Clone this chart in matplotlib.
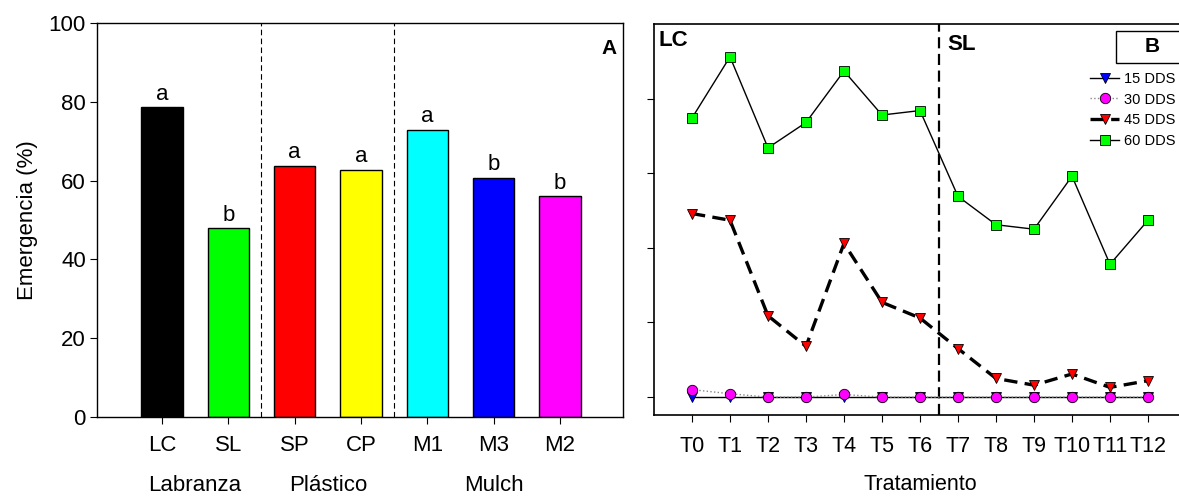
import matplotlib
matplotlib.use('Agg')
import matplotlib.pyplot as plt
from matplotlib.patches import Rectangle

plt.rcParams['font.family'] = ['Liberation Sans', 'DejaVu Sans']

# Panel A data
trat_a = ['LC', 'SL', 'SP', 'CP', 'M1', 'M3', 'M2']
emergencia = [78.7, 47.9, 63.8, 62.8, 72.9, 60.7, 56.0]
letras = ['a', 'b', 'a', 'a', 'a', 'b', 'b']
colores = ['#000000', '#00ff00', '#ff0000', '#ffff00', '#00ffff', '#0000ff', '#ff00ff']
grupos = ['Labranza', 'Plástico', 'Mulch']
grupos_x = [0.5, 2.5, 5.0]

# Panel B data
trat_b = ['T0', 'T1', 'T2', 'T3', 'T4', 'T5', 'T6', 'T7', 'T8', 'T9', 'T10', 'T11', 'T12']
dds15 = [0, 0, 0, 0, 0, 0, 0, 0, 0, 0, 0, 0, 0]
dds30 = [1.0, 0.45, 0, 0, 0.35, 0, 0, 0, 0, 0, 0, 0, 0]
dds45 = [24.6, 23.7, 10.9, 6.8, 20.6, 12.7, 10.6, 6.5, 2.5, 1.6, 3.1, 1.3, 2.2]
dds60 = [37.4, 45.6, 33.4, 36.8, 43.7, 37.8, 38.4, 26.9, 23.1, 22.5, 29.6, 17.8, 23.7]

W, H = 1179, 497
fig = plt.figure(figsize=(W / 100, H / 100), dpi=100)

# ---------- Panel A ----------
ax1 = fig.add_axes([97 / W, 1 - 417 / H, (623 - 97) / W, (417 - 23) / H])
xa = range(len(trat_a))
ax1.bar(xa, emergencia, width=0.62, color=colores, edgecolor='black', linewidth=1)
for x, v, l in zip(xa, emergencia, letras):
    ax1.text(x, v + 0.6, l, ha='center', va='bottom', fontsize=16)
for xs in [1.5, 3.5]:
    ax1.axvline(xs, color='black', linestyle=(0, (5, 3)), linewidth=0.8)
ax1.set_xlim(-0.98, 6.95)
ax1.set_ylim(0, 100)
ax1.set_yticks([0, 20, 40, 60, 80, 100])
ax1.set_xticks(list(xa))
ax1.set_xticklabels(trat_a)
ax1.tick_params(axis='both', direction='out', length=5, labelsize=16)
ax1.tick_params(axis='x', pad=8)
ax1.tick_params(axis='y', pad=3)
for x, g in zip(grupos_x, grupos):
    ax1.text(x, -0.173, g, transform=ax1.get_xaxis_transform(), ha='center',
             va='center', fontsize=16)
ax1.set_ylabel('Emergencia (%)', fontsize=16, labelpad=8)
ax1.text(0.987, 0.935, 'A', transform=ax1.transAxes, ha='right', va='center',
         fontsize=15, fontweight='bold')
for s in ax1.spines.values():
    s.set_linewidth(1)

# ---------- Panel B ----------
ax2 = fig.add_axes([654 / W, 1 - 415 / H, (1186 - 654) / W, (415 - 24) / H])
xb = range(len(trat_b))
ax2.plot(xb, dds15, color='black', linewidth=1, marker='v', markersize=7.5,
         markerfacecolor='#0000ff', markeredgecolor='black', markeredgewidth=0.6,
         label='15 DDS', zorder=3)
ax2.plot(xb, dds30, color='#888888', linestyle=':', linewidth=1, marker='o',
         markersize=7.5, markerfacecolor='#ff00ff', markeredgecolor='black',
         markeredgewidth=0.6, label='30 DDS', zorder=4)
ax2.plot(xb, dds45, color='black', linestyle=(0, (4, 2.2)), linewidth=2.4,
         marker='v', markersize=7.5, markerfacecolor='#ff0000',
         markeredgecolor='black', markeredgewidth=0.6, label='45 DDS', zorder=3)
ax2.plot(xb, dds60, color='black', linewidth=1, marker='s', markersize=7.5,
         markerfacecolor='#00ff00', markeredgecolor='black',
         markeredgewidth=0.6, label='60 DDS', zorder=3)
ax2.axvline(6.5, color='black', linestyle=(0, (5, 2.5)), linewidth=1.6)
ax2.set_xlim(-1, 13)
ax2.set_ylim(-2.4, 50)
ax2.set_yticks([0, 10, 20, 30, 40])
ax2.set_yticklabels([])
ax2.set_xticks(list(xb))
ax2.set_xticklabels(trat_b)
ax2.tick_params(axis='both', direction='out', length=5, labelsize=15.5)
ax2.tick_params(axis='x', pad=10)
ax2.set_xlabel('Tratamiento', fontsize=15.5, labelpad=12)
ax2.text(658 / W, 1 - 40 / H, 'LC', transform=fig.transFigure, ha='left',
         va='center', fontsize=16, fontweight='bold')
ax2.text(947 / W, 1 - 45 / H, 'SL', transform=fig.transFigure, ha='left',
         va='center', fontsize=16, fontweight='bold')
for s in ax2.spines.values():
    s.set_linewidth(1.2)

# box with "B"
fig.patches.append(Rectangle((1116 / W, 1 - 63 / H), (1200 - 1116) / W, 32 / H,
                             transform=fig.transFigure, facecolor='white',
                             edgecolor='black', linewidth=1))
fig.text(1152 / W, 1 - 47 / H, 'B', ha='center', va='center', fontsize=15,
         fontweight='bold')

ax2.legend(loc='upper left', bbox_to_anchor=(1090 / W, 1 - 72 / H),
           bbox_transform=fig.transFigure, frameon=False, fontsize=10.5,
           handlelength=2.0, handletextpad=0.3, labelspacing=0.45,
           borderpad=0, borderaxespad=0)

fig.savefig('out.png', dpi=100)
